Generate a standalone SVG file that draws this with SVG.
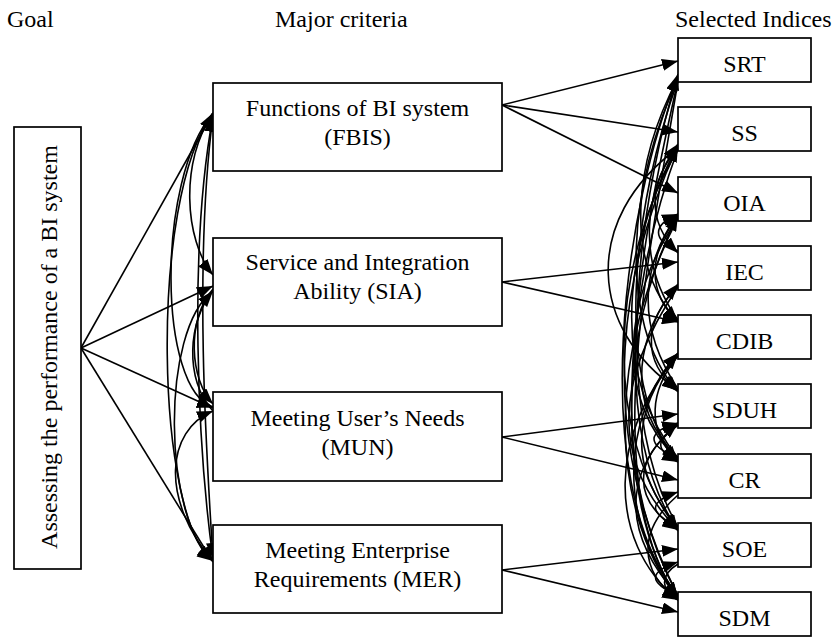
<svg xmlns="http://www.w3.org/2000/svg" width="838" height="638" viewBox="0 0 838 638">
<style>
.box{fill:#fff;stroke:#000;stroke-width:1.7}
.t{font-family:"Liberation Serif","Times New Roman",serif;font-size:24px;fill:#000}
.m{text-anchor:middle}
.c{fill:none;stroke:#000;stroke-width:1.6}
</style>
<defs>
<marker id="ah" markerWidth="16" markerHeight="12" refX="16" refY="6" orient="auto" markerUnits="userSpaceOnUse"><path d="M0,0 L16,6 L0,12 z" fill="#000"/></marker>
</defs>
<rect width="838" height="638" fill="#fff"/>
<g id="headers">
<text class="t" x="7" y="27">Goal</text>
<text class="t" x="275" y="27">Major criteria</text>
<text class="t" x="675" y="27">Selected Indices</text>
</g>
<g id="connectors">
<!-- goal to criteria -->
<path class="c" marker-end="url(#ah)" d="M81,348 L213,113"/>
<path class="c" marker-end="url(#ah)" d="M81,348 L213,286"/>
<path class="c" marker-end="url(#ah)" d="M81,348 L213,408"/>
<path class="c" marker-end="url(#ah)" d="M81,348 L213,562"/>
<!-- criteria network -->
<path class="c" marker-end="url(#ah)" d="M213,113 C148,200 156,520 213,561"/>
<path class="c" marker-end="url(#ah)" d="M213,113 C156,180 158,390 213,407"/>
<path class="c" marker-end="url(#ah)" d="M213,114 C180,160 184,240 213,275"/>
<path class="c" marker-end="url(#ah)" d="M213,559 C198,450 188,250 213,116"/>
<path class="c" marker-end="url(#ah)" d="M213,116 C194,260 206,450 213,559"/>
<path class="c" marker-end="url(#ah)" d="M213,289 C186,320 190,380 213,404"/>
<path class="c" marker-end="url(#ah)" d="M213,411 C184,380 188,320 213,291"/>
<path class="c" marker-end="url(#ah)" d="M213,291 C160,330 163,520 213,560"/>
<path class="c" marker-end="url(#ah)" d="M213,561 C160,500 166,430 213,411"/>
<!-- criteria to indices -->
<path class="c" marker-end="url(#ah)" d="M502,105 L678,61"/>
<path class="c" marker-end="url(#ah)" d="M502,105 L678,132"/>
<path class="c" marker-end="url(#ah)" d="M502,105 L678,193"/>
<path class="c" marker-end="url(#ah)" d="M502,282 L678,262"/>
<path class="c" marker-end="url(#ah)" d="M502,282 L678,322"/>
<path class="c" marker-end="url(#ah)" d="M502,437 L678,414"/>
<path class="c" marker-end="url(#ah)" d="M502,437 L678,480"/>
<path class="c" marker-end="url(#ah)" d="M502,570 L678,549"/>
<path class="c" marker-end="url(#ah)" d="M502,570 L678,612"/>
<!-- index network: downward -->
<path class="c" marker-end="url(#ah)" d="M678,78 C635,160 622,260 678,322"/>
<path class="c" marker-end="url(#ah)" d="M678,79 C630,180 615,320 678,392"/>
<path class="c" marker-end="url(#ah)" d="M678,80 C635,200 610,380 678,462"/>
<path class="c" marker-end="url(#ah)" d="M678,80 C640,250 605,420 678,531"/>
<path class="c" marker-end="url(#ah)" d="M678,81 C645,280 600,480 678,600"/>
<path class="c" marker-end="url(#ah)" d="M678,148 C650,180 645,220 678,253"/>
<path class="c" marker-end="url(#ah)" d="M678,148 C580,220 590,330 678,390"/>
<path class="c" marker-end="url(#ah)" d="M678,149 C612,260 600,430 678,530"/>
<path class="c" marker-end="url(#ah)" d="M678,149 C622,300 610,500 678,598"/>
<path class="c" marker-end="url(#ah)" d="M678,217 C650,250 645,290 678,322"/>
<path class="c" marker-end="url(#ah)" d="M678,218 C622,300 615,400 678,460"/>
<path class="c" marker-end="url(#ah)" d="M678,218 C610,350 605,500 678,600"/>
<path class="c" marker-end="url(#ah)" d="M678,286 C645,320 640,360 678,391"/>
<path class="c" marker-end="url(#ah)" d="M678,287 C615,380 610,460 678,530"/>
<path class="c" marker-end="url(#ah)" d="M678,356 C650,390 645,430 678,461"/>
<path class="c" marker-end="url(#ah)" d="M678,356 C610,430 605,540 678,600"/>
<path class="c" marker-end="url(#ah)" d="M678,425 C655,440 655,450 678,462"/>
<path class="c" marker-end="url(#ah)" d="M678,425 C632,460 632,500 678,530"/>
<path class="c" marker-end="url(#ah)" d="M678,495 C638,530 638,570 678,600"/>
<path class="c" marker-end="url(#ah)" d="M678,564 C660,575 660,590 678,600"/>
<!-- index network: upward -->
<path class="c" marker-end="url(#ah)" d="M678,596 C585,480 625,200 678,76"/>
<path class="c" marker-end="url(#ah)" d="M678,527 C605,400 645,180 678,74"/>
<path class="c" marker-end="url(#ah)" d="M678,458 C600,360 635,220 678,146"/>
<path class="c" marker-end="url(#ah)" d="M678,596 C590,420 625,260 678,146"/>
<path class="c" marker-end="url(#ah)" d="M678,320 C635,260 645,190 678,144"/>
<path class="c" marker-end="url(#ah)" d="M678,389 C632,320 645,260 678,214"/>
<path class="c" marker-end="url(#ah)" d="M678,596 C600,450 635,300 678,215"/>
<path class="c" marker-end="url(#ah)" d="M678,251 C652,240 652,225 678,214"/>
<path class="c" marker-end="url(#ah)" d="M678,458 C620,400 640,330 678,284"/>
<path class="c" marker-end="url(#ah)" d="M678,596 C605,500 635,400 678,353"/>
<path class="c" marker-end="url(#ah)" d="M678,527 C620,460 640,400 678,353"/>
<path class="c" marker-end="url(#ah)" d="M678,458 C646,445 646,432 678,423"/>
<path class="c" marker-end="url(#ah)" d="M678,596 C610,520 635,460 678,423"/>
<path class="c" marker-end="url(#ah)" d="M678,527 C648,512 648,502 678,492"/>
<path class="c" marker-end="url(#ah)" d="M678,596 C648,582 648,572 678,562"/>
</g>
<g id="goal">
<rect class="box" x="14" y="127" width="67" height="442"/>
<text class="t m" transform="translate(57,347) rotate(-90)">Assessing the performance of a BI system</text>
</g>
<g id="FBIS">
<rect class="box" x="213" y="83" width="289" height="88"/>
<text class="t m" x="357.5" y="116">Functions of BI system</text>
<text class="t m" x="357.5" y="145">(FBIS)</text>
</g>
<g id="SIA">
<rect class="box" x="213" y="238" width="289" height="88"/>
<text class="t m" x="357.5" y="270">Service and Integration</text>
<text class="t m" x="357.5" y="299">Ability (SIA)</text>
</g>
<g id="MUN">
<rect class="box" x="213" y="392" width="289" height="89"/>
<text class="t m" x="357.5" y="426">Meeting User’s Needs</text>
<text class="t m" x="357.5" y="455">(MUN)</text>
</g>
<g id="MER">
<rect class="box" x="213" y="525" width="289" height="88"/>
<text class="t m" x="357.5" y="558">Meeting Enterprise</text>
<text class="t m" x="357.5" y="587">Requirements (MER)</text>
</g>
<g id="SRT"><rect class="box" x="678" y="38" width="133" height="44"/><text class="t m" x="744.5" y="72">SRT</text></g>
<g id="SS"><rect class="box" x="678" y="107" width="133" height="44"/><text class="t m" x="744.5" y="141">SS</text></g>
<g id="OIA"><rect class="box" x="678" y="177" width="133" height="44"/><text class="t m" x="744.5" y="211">OIA</text></g>
<g id="IEC"><rect class="box" x="678" y="246" width="133" height="44"/><text class="t m" x="744.5" y="280">IEC</text></g>
<g id="CDIB"><rect class="box" x="678" y="315" width="133" height="44"/><text class="t m" x="744.5" y="349">CDIB</text></g>
<g id="SDUH"><rect class="box" x="678" y="384" width="133" height="44"/><text class="t m" x="744.5" y="418">SDUH</text></g>
<g id="CR"><rect class="box" x="678" y="454" width="133" height="44"/><text class="t m" x="744.5" y="488">CR</text></g>
<g id="SOE"><rect class="box" x="678" y="523" width="133" height="44"/><text class="t m" x="744.5" y="557">SOE</text></g>
<g id="SDM"><rect class="box" x="678" y="592" width="133" height="44"/><text class="t m" x="744.5" y="626">SDM</text></g>
</svg>
